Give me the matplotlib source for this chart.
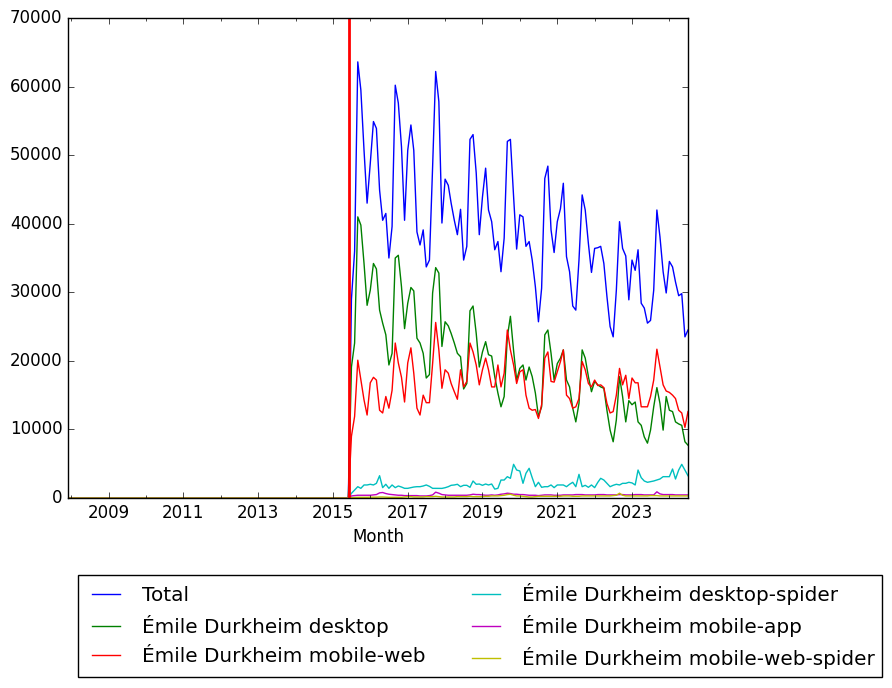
import numpy as np
import pandas as pd
import matplotlib
matplotlib.use('Agg')
import matplotlib.pyplot as plt
import matplotlib.dates as mdates

plt.style.use('classic')

# monthly views, Dec 2007 .. Jul 2024; nothing recorded before Jul 2015
months = pd.date_range('2007-12-01', '2024-07-01', freq='MS')
n_zero = 91  # 2007-12 .. 2015-06

total = [29000, 36000, 63600, 59500, 50700, 43000, 48800, 54900, 53900, 44900, 40500, 41500, 35000,
         39600, 60200, 57600, 51200, 40500, 50700, 54400, 50700, 38800, 36900, 39100, 33700, 34700,
         48300, 62200, 57800, 40100, 46500, 45600, 43000, 40500, 38400, 42100, 34700, 36700, 52300,
         53000, 47400, 38400, 43900, 48100, 42000, 40300, 36200, 37400, 33000, 37900, 52000, 52300, 44000,
         36300, 41300, 41000, 36700, 37400, 34700, 30800, 25700, 30600, 46600, 48400, 39100, 35800,
         40300, 42200, 45900, 35200, 33000, 28000, 27400, 34700, 44200, 42000, 37100, 32900, 36400, 36500,
         36700, 34200, 29400, 25000, 23500, 30300, 40300, 36400, 35300, 28900, 34700, 33200, 36200,
         28400, 27700, 25500, 25900, 30300, 42000, 38100, 33000, 29900, 34500, 33700, 31500, 29500,
         29800, 23500, 24500]
desktop = [19100, 22600, 41000, 39800, 34200, 28100, 30300, 34200, 33400, 27400, 25500, 23800, 19400,
           21100, 35000, 35400, 30800, 24700, 28400, 30700, 30200, 23300, 22600, 21100, 17500, 18000,
           29900, 33600, 32800, 22100, 25700, 25100, 24000, 22600, 21100, 20600, 15900, 16700, 27300,
           28000, 24000, 19100, 21300, 22800, 20900, 20700, 17700, 15300, 13300, 14800, 23500, 26500, 21500,
           17200, 18900, 19400, 17200, 19100, 17700, 15300, 11900, 13300, 23800, 24500, 21100, 17200,
           19600, 20400, 21600, 17200, 16200, 13100, 11100, 13800, 21600, 20400, 17700, 15500, 17000, 16500,
           16200, 16000, 12800, 9900, 8200, 11400, 17700, 14800, 11100, 14200, 13600, 14000, 11100,
           10600, 8900, 8000, 9900, 13300, 16100, 13800, 9900, 14800, 12800, 12600, 11100, 10800,
           10600, 8200, 7700]
mobile_web = [9000, 11900, 20100, 17200, 14300, 12100, 16800, 17600, 17200, 12800, 12400, 14800, 13100,
              15700, 22600, 19700, 17600, 14000, 19700, 21900, 18200, 13100, 12100, 15000, 13900, 13900,
              19600, 25600, 21600, 16000, 18700, 18200, 16700, 15500, 14400, 18700, 16200, 17000, 22600,
              21300, 19400, 16500, 18700, 20400, 18700, 16200, 16200, 19400, 16200, 18200, 24500, 21600, 19400,
              16700, 18400, 18700, 15000, 13100, 12800, 12900, 11600, 13600, 20400, 21300, 17000, 16900,
              18400, 19900, 21600, 15000, 14500, 13100, 13300, 14500, 19900, 18700, 16700, 16200, 17200, 16400,
              16500, 16100, 13800, 12400, 12600, 15000, 18900, 16500, 17900, 14500, 17500, 16800, 16800,
              13300, 13300, 13300, 14800, 17200, 21700, 19100, 16500, 15600, 15400, 15000, 14500, 12800,
              12400, 10300, 12600]
desktop_spider = [680, 1170, 1650, 1410, 1900, 1900, 2000, 1900, 2140, 3250, 1510, 2000, 1410,
                  1900, 1510, 1750, 1600, 1410, 1410, 1510, 1600, 1650, 1650, 1750, 1900, 1700,
                  1410, 1410, 1400, 1400, 1500, 1650, 1850, 1900, 2000, 1650, 1850, 1850, 1560,
                  2480, 2000, 2040, 1850, 2040, 1900, 2040, 1300, 1410, 2620, 2620, 3110, 2870, 4910,
                  4080, 3940, 2140, 3600, 4330, 2960, 1650, 2290, 1560, 1650, 1650, 1900, 1510,
                  1900, 1900, 1900, 1650, 2000, 2290, 1650, 3450, 1650, 1850, 1560, 1900, 1510, 2290,
                  2870, 2620, 2140, 1650, 1850, 2000, 1900, 2140, 2140, 2290, 2200, 1900, 4080,
                  2960, 2480, 2290, 2380, 2480, 2620, 2770, 3110, 3110, 3110, 4230, 2770, 4080,
                  4910, 4080, 3250]
mobile_app = [300, 350, 400, 400, 400, 400, 400, 450, 500, 750, 800, 650, 550,
              500, 450, 400, 400, 350, 350, 350, 350, 350, 300, 300, 300, 350,
              450, 850, 700, 500, 450, 400, 400, 400, 400, 400, 400, 400, 450,
              550, 500, 500, 450, 400, 400, 450, 400, 450, 550, 600, 700, 650, 550,
              550, 500, 500, 450, 400, 400, 400, 350, 400, 450, 450, 450, 400,
              400, 400, 450, 450, 450, 450, 500, 500, 500, 450, 450, 450, 450, 500,
              500, 500, 450, 450, 450, 450, 500, 500, 450, 450, 450, 500, 500,
              500, 450, 450, 450, 450, 900, 600, 500, 500, 500, 500, 450, 450,
              450, 450, 450]
mobile_web_spider = [50, 80, 100, 100, 100, 100, 120, 120, 120, 150, 150, 120, 100,
                     100, 100, 100, 100, 150, 200, 200, 150, 150, 150, 150, 200, 200,
                     200, 250, 200, 150, 150, 150, 150, 150, 200, 200, 200, 200, 250,
                     200, 200, 200, 200, 250, 250, 300, 300, 300, 350, 400, 500, 550, 400,
                     300, 300, 250, 200, 150, 150, 200, 250, 250, 250, 250, 250, 250,
                     250, 250, 300, 300, 300, 250, 250, 250, 300, 300, 300, 300, 300, 300,
                     300, 300, 300, 300, 350, 400, 700, 400, 300, 300, 300, 300, 300,
                     300, 300, 300, 350, 350, 350, 300, 300, 300, 300, 300, 300, 300,
                     300, 300, 300]

series = [
    ('Total', total),
    ('Émile Durkheim desktop', desktop),
    ('Émile Durkheim mobile-web', mobile_web),
    ('Émile Durkheim desktop-spider', desktop_spider),
    ('Émile Durkheim mobile-app', mobile_app),
    ('Émile Durkheim mobile-web-spider', mobile_web_spider),
]
colors = ['b', 'g', 'r', 'c', 'm', 'y']
marker_date = pd.Timestamp('2015-06-08')

fig = plt.figure(figsize=(8.92, 6.88), facecolor='white')
ax = fig.add_axes([68/892, 1 - 498/688, 620/892, 480/688])

for (name, vals), c in zip(series, colors):
    y = np.concatenate([np.zeros(n_zero), vals])
    ax.plot(months, y, color=c, label=name)

ax.axvline(marker_date, color='red', linewidth=2)

ax.set_xlim(months[0], months[-1])
ax.set_ylim(0, 70000)
ax.set_xticks(pd.to_datetime([f'{yr}-01-01' for yr in range(2009, 2025, 2)]))
ax.xaxis.set_major_formatter(mdates.DateFormatter('%Y'))
ax.xaxis.set_minor_locator(mdates.YearLocator(1))
ax.set_xlabel('Month')

ax.legend(loc='upper left', ncol=2, bbox_to_anchor=(78/892, 1 - 575/688),
          bbox_transform=fig.transFigure, borderaxespad=0, fontsize='large')

fig.savefig('out.png', dpi=100, facecolor='white')
